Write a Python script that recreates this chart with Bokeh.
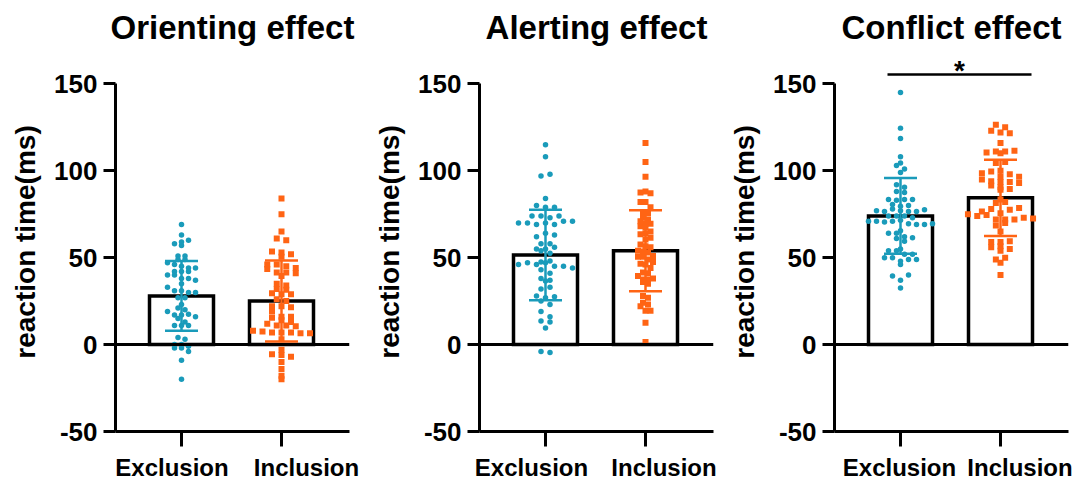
import numpy as np
from bokeh.plotting import figure
from bokeh.layouts import row
from bokeh.models import Span, FixedTicker, Range1d, LinearAxis
from bokeh.embed import file_html
from bokeh.resources import INLINE
from bokeh.core.properties import value

# ---------------- data ----------------
titles = ["Orienting effect", "Alerting effect", "Conflict effect"]
groups = ["Exclusion", "Inclusion"]
y_ticks = [-50, 0, 50, 100, 150]
y_tick_labels = ["-50", "0", "50", "100", "150"]
y_label = "reaction time(ms)"

orient_exc = [69, 63, 57, 58, 59, 60, 51, 51, 49, 49, 47, 46, 45, 44, 44, 42, 42, 42,
              40, 40, 38, 38, 37, 35, 33, 31, 31, 30, 30, 27, 27, 23, 21, 20, 19, 17,
              17, 17.5, 16, 15, 13, 11, 11, 11, 4, 3, 0, 0, -1, -2, -2, -4, -9, -20]
orient_inc = [84, 75, 65, 61, 60, 53.5, 53, 52, 50.5, 46, 46, 45, 44, 43.5, 41.5, 41.5,
              41, 39.5, 35, 34, 32, 31.5, 29.5, 29, 29, 26, 25, 22, 22, 21.5, 19, 16,
              16, 15.5, 14, 13, 12, 11, 11, 10.5, 8, 7.5, 7, 7, 7, 6.5, 6.5, 3, -3,
              -5.5, -6, -7, -10, -14, -18, -20]
alert_exc = [115, 108, 97, 98, 84, 80, 79, 79, 74, 74, 73, 74, 70, 70, 69, 70, 69, 71,
             71, 62, 64, 63, 58, 58, 55, 55, 54, 56, 52.5, 46, 47, 46, 47, 45, 45,
             47.5, 48, 43, 44, 41, 38, 37, 36.5, 32, 33, 28, 27, 27.5, 25, 23, 19, 16,
             13.5, 13, 9.5, -4, -4.5]
alert_inc = [116, 105, 96.5, 87.5, 88, 87, 82, 82, 79, 76, 75.5, 73, 72, 71, 69.5, 69.5,
             68, 67.5, 65, 63.5, 64, 61.5, 60.5, 57.5, 56.5, 56, 54, 53.5, 53, 51,
             50.5, 50.5, 49, 47.5, 46.5, 46, 44, 41.5, 41, 39.5, 37.5, 37.5, 38, 36,
             35, 28, 27, 24, 23, 22, 19.5, 19.5, 12.5, 1.5]
conflict_exc = [145, 124.5, 118.5, 108, 104.5, 103, 101, 99, 92, 88, 90.5, 87.5, 83.5,
                83, 83.5, 83.5, 80.5, 79.5, 80, 77, 76.5, 78, 77, 76.5, 76.5, 77.5, 71,
                74, 71, 70.5, 74, 74, 71, 71.5, 73, 69.5, 69, 69, 69.5, 65.5, 64, 64,
                62, 61, 61.5, 59.5, 55, 54, 54, 52, 52, 50, 50, 48, 46, 49, 49, 39.5,
                37, 40, 32.5]
conflict_inc = [126.5, 125, 123, 122, 121.5, 116, 110.5, 110, 111, 111, 111.5, 104.5,
                105, 100, 98.5, 99.5, 96.5, 95, 98, 96.5, 94, 93.5, 93.5, 93, 91.5,
                90.5, 89, 89.5, 81.5, 82, 83.5, 76.5, 78, 75.5, 77.5, 75, 74, 74.5,
                78.5, 72, 72, 72, 73, 68.5, 70, 72.5, 65, 59, 59, 59.5, 56, 56.5, 55,
                54, 49, 50, 47, 40]

orient_mean = [28, 25]
orient_sd = [20, 23.3]
alert_mean = [51.5, 54]
alert_sd = [26, 23.3]
conflict_mean = [74, 84.4]
conflict_sd = [21.8, 21.9]

sig_text = "*"
sig_x = [0.87, 2.31]
sig_y = 155.3

# ---------------- style / layout ----------------
EXC = "#1A9BBA"
INC = "#FF6414"
FONT = "Liberation Sans"
label_pos = [(0.905, 2.25), (0.86, 2.185), (0.99, 2.195)]   # where group names sit


def swarm(vals, bw, step):
    vals = np.asarray(vals, float)
    keys = np.round(vals / bw).astype(int)
    offs = np.zeros(len(vals))
    for k in np.unique(keys):
        idx = np.where(keys == k)[0]
        n = len(idx)
        offs[idx] = (np.arange(n) - (n - 1) / 2.0) * step
    return offs


def panel(title, exc, inc, mean, sd, bl, br, steps, lpos, sig=False):
    p = figure(frame_width=234, frame_height=379,
               min_border_left=bl, min_border_right=br,
               min_border_top=52, min_border_bottom=53,
               x_range=Range1d(0.34, 2.68), y_range=Range1d(-50, 168),
               output_backend="svg", toolbar_location=None, title=title)
    p.outline_line_color = None
    p.grid.visible = False
    p.background_fill_color = "white"
    p.border_fill_color = "white"

    p.title.text_font = FONT
    p.title.text_font_size = "33px"
    p.title.text_font_style = "bold"
    p.title.align = "center"
    p.title.text_color = "black"
    p.title.standoff = 13

    for ax in (p.xaxis[0], p.yaxis[0]):
        ax.axis_line_width = 3
        ax.axis_line_color = "black"
        ax.major_tick_line_width = 3
        ax.major_tick_line_color = "black"
        ax.major_tick_in = 0
        ax.minor_tick_line_color = None
        ax.major_label_text_font = FONT
        ax.major_label_text_font_style = "bold"
        ax.major_label_text_color = "black"

    ya = p.yaxis[0]
    ya.bounds = (-50, 150)
    ya.ticker = FixedTicker(ticks=y_ticks)
    ya.major_label_overrides = dict(zip(y_ticks, y_tick_labels))
    ya.major_tick_out = 12
    ya.major_label_text_font_size = "26px"
    ya.major_label_standoff = 6
    ya.axis_label = y_label
    ya.axis_label_text_font = FONT
    ya.axis_label_text_font_size = "28px"
    ya.axis_label_text_font_style = "bold"
    ya.axis_label_text_color = "black"
    ya.axis_label_standoff = 10

    # x axis: tick marks at the groups, names set by a second (line-less) axis
    xa = p.xaxis[0]
    xa.ticker = FixedTicker(ticks=[1, 2])
    xa.major_label_overrides = {1: "", 2: ""}
    xa.major_tick_out = 15
    xa.major_label_standoff = 0
    xa.major_label_text_font_size = "1px"

    names = LinearAxis(ticker=FixedTicker(ticks=list(lpos)),
                       major_label_overrides=dict(zip(lpos, groups)),
                       axis_line_color=None, major_tick_line_color=None,
                       minor_tick_line_color=None, major_tick_out=0,
                       major_tick_in=0, major_label_standoff=7,
                       major_label_text_font=FONT,
                       major_label_text_font_size="24px",
                       major_label_text_font_style="bold",
                       major_label_text_color="black")
    p.add_layout(names, "below")

    xs = np.array([1.0, 2.0])
    m = np.array(mean, float)
    s = np.array(sd, float)

    p.vbar(x=xs, top=m, bottom=0, width=0.64, fill_color="white",
           line_color="black", line_width=3.5, line_join="miter")
    p.add_layout(Span(location=0, dimension="width", line_color="black",
                      line_width=3))

    ex_off = swarm(exc, 3.5, steps[0])
    in_off = swarm(inc, 3.5, steps[1])
    p.scatter(x=1 + ex_off, y=exc, marker="circle", size=5.5,
              fill_color=EXC, line_color=None)
    p.scatter(x=2 + in_off, y=inc, marker="square", size=6,
              fill_color=INC, line_color=None)

    cols = [EXC, INC]
    p.segment(x0=xs, y0=m - s, x1=xs, y1=m + s, line_color=cols, line_width=2.5)
    cw = 0.165
    p.segment(x0=xs - cw, y0=m + s, x1=xs + cw, y1=m + s, line_color=cols,
              line_width=2.5)
    p.segment(x0=xs - cw, y0=m - s, x1=xs + cw, y1=m - s, line_color=cols,
              line_width=2.5)

    if sig:
        p.line(x=sig_x, y=[sig_y, sig_y], line_color="black", line_width=2.5)
        p.text(x=[(sig_x[0] + sig_x[1]) / 2], y=[sig_y + 2.4], text=[sig_text],
               text_font=value(FONT), text_font_style="bold",
               text_font_size="28px", text_align="center",
               text_baseline="alphabetic", text_color="black")
    return p


p1 = panel(titles[0], orient_exc, orient_inc, orient_mean, orient_sd, 115, 22,
           (0.07, 0.095), label_pos[0])
p2 = panel(titles[1], alert_exc, alert_inc, alert_mean, alert_sd, 107, 13,
           (0.09, 0.05), label_pos[1])
p3 = panel(titles[2], conflict_exc, conflict_inc, conflict_mean, conflict_sd, 107, 16,
           (0.08, 0.093), label_pos[2], sig=True)

layout = row(p1, p2, p3)
open("out.html", "w").write(file_html(layout, INLINE))
